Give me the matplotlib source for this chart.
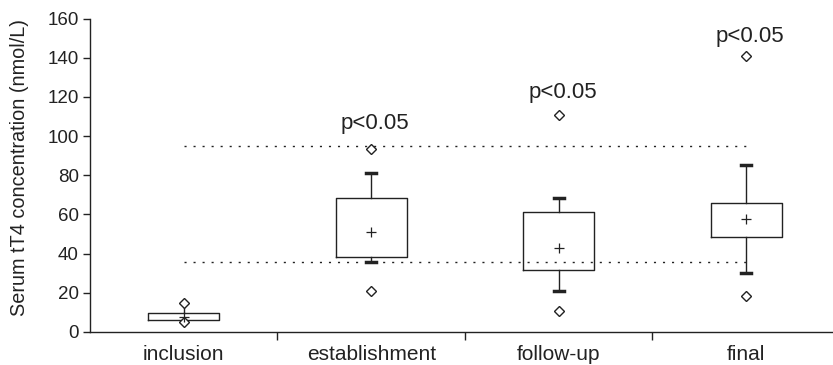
import matplotlib
matplotlib.use("Agg")
import matplotlib.pyplot as plt

# -----------------------------
# DATA
# -----------------------------
groups = ["inclusion", "establishment", "follow-up", "final"]
q1 = [6.1, 38.2, 31.8, 48.6]
q3 = [9.8, 68.5, 61.4, 65.6]
means = [7.5, 50.9, 42.8, 57.7]
whis_lo = [5.2, 35.5, 20.7, 30.3]
whis_hi = [14.9, 80.9, 68.4, 85.3]
outliers = [[14.9, 5.2], [93.2, 21.0], [111.0, 10.8], [141.0, 18.3]]
p_labels = ["", "p<0.05", "p<0.05", "p<0.05"]
p_label_y = [None, 103.5, 119.5, 148.0]
ref_range = [35.5, 94.8]   # reference interval (dotted lines)

plt.rcParams["font.family"] = ["Liberation Sans", "DejaVu Sans"]
ink = "#222222"

fig = plt.figure(figsize=(8.33, 3.65), dpi=100)
ax = fig.add_axes([90 / 833, 33 / 365, 743 / 833, (332 - 18.5) / 365])

stats = []
for i, g in enumerate(groups):
    stats.append({
        "label": g,
        "q1": q1[i], "q3": q3[i], "med": means[i], "mean": means[i],
        "whislo": whis_lo[i], "whishi": whis_hi[i],
        "fliers": outliers[i],
    })

positions = list(range(1, len(groups) + 1))
ax.bxp(
    stats,
    positions=positions,
    widths=0.38,
    capwidths=[0.0, 0.055, 0.055, 0.055],  # inclusion: no visible caps
    showmeans=True,
    showfliers=True,
    patch_artist=False,
    boxprops=dict(color=ink, linewidth=1.0),
    whiskerprops=dict(color=ink, linewidth=1.0),
    capprops=dict(color=ink, linewidth=2.5),
    medianprops=dict(visible=False),
    meanprops=dict(marker="+", markeredgecolor=ink, markersize=7, markeredgewidth=0.9),
    flierprops=dict(marker="D", markerfacecolor="white", markeredgecolor=ink,
                    markersize=5.3, markeredgewidth=1.0),
)

# reference interval
ax.hlines(ref_range, positions[0], positions[-1], colors=ink, linewidth=1.0,
          linestyles=(0, (1.5, 5)), zorder=1)

# significance labels above the top outlier
for x, lab, y in zip(positions, p_labels, p_label_y):
    if lab:
        ax.text(x + 0.02, y, lab, ha="center", va="baseline",
                fontsize=16, color=ink)

ax.set_xlim(0.5, 0.5 + 743 / 187.5)
ax.set_ylim(0, 160)
ax.set_yticks(range(0, 161, 20))
ax.tick_params(axis="y", labelsize=13.5, colors=ink, length=5, width=1,
               direction="out", pad=3)

# category labels centred, tick marks between categories
ax.set_xticks([1.5, 2.5, 3.5])
ax.set_xticklabels([])
ax.tick_params(axis="x", length=6, width=1, colors=ink, direction="out")
ax.set_xticks(positions, minor=True)
ax.set_xticklabels(groups, minor=True, fontsize=15, color=ink)
ax.tick_params(axis="x", which="minor", length=0, pad=9)

ax.set_ylabel("Serum tT4 concentration (nmol/L)", fontsize=14.3, color=ink)
ax.yaxis.set_label_coords(-0.082, 0.525)
ax.spines["top"].set_visible(False)
ax.spines["right"].set_visible(False)
for s in ["left", "bottom"]:
    ax.spines[s].set_color(ink)
    ax.spines[s].set_linewidth(1.0)

fig.savefig("out.png", dpi=100)
